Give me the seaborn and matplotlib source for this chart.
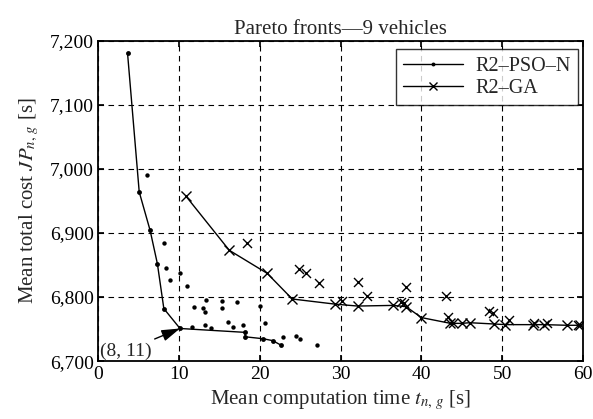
import numpy as np
import pandas as pd
import matplotlib
matplotlib.use("Agg")
import matplotlib.pyplot as plt
import matplotlib.ticker as mticker
import seaborn as sns

# R2-PSO-N pareto front (connected line)
pso_x = [3.6, 5.05, 6.4, 7.3, 8.1, 10.1, 18.1, 18.2, 20.4, 21.6, 22.6]
pso_y = [7181, 6964, 6904, 6852, 6782, 6751, 6745, 6738, 6735, 6732, 6725]

# R2-PSO-N other solutions (dots)
pso_dots_x = [6.0, 8.15, 8.4, 8.9, 10.05, 11.0, 11.8, 11.6, 12.9, 13.2, 13.3, 13.2,
              13.9, 15.3, 15.3, 16.1, 16.7, 17.15, 17.9, 20.0, 20.6, 22.9, 24.5, 25.0, 27.1]
pso_dots_y = [6990, 6884, 6845, 6826, 6838, 6817, 6785, 6753, 6783, 6776, 6796, 6756,
              6752, 6794, 6783, 6761, 6753, 6792, 6757, 6786, 6760, 6738, 6740, 6734, 6725]

# R2-GA pareto front (connected line)
ga_x = [10.8, 16.2, 20.9, 24.0, 29.3, 32.1, 36.5, 38.1, 40.0, 43.6, 45.0, 46.0,
        49.0, 50.4, 53.8, 55.2, 58.0, 59.7]
ga_y = [6958, 6873, 6837, 6797, 6789, 6786, 6787, 6785, 6768, 6759, 6759, 6760,
        6758, 6757, 6757, 6757, 6756, 6756]

# R2-GA other solutions (crosses)
ga_dots_x = [18.35, 24.9, 25.7, 27.3, 30.2, 32.2, 33.2, 37.5, 37.8, 38.1, 43.0, 43.3,
             43.9, 48.4, 48.9, 50.9, 53.9, 55.5, 59.4]
ga_dots_y = [6885, 6844, 6837, 6822, 6794, 6824, 6802, 6793, 6790, 6815, 6802, 6769,
             6760, 6778, 6775, 6764, 6759, 6759, 6756]

sns.set_theme(style="ticks")
plt.rcParams['font.family'] = ['Liberation Serif', 'DejaVu Serif']
plt.rcParams['mathtext.fontset'] = 'stix'

fig = plt.figure(figsize=(5.93, 4.19), dpi=100)
ax = fig.add_axes([0.166, 0.138, 0.817, 0.765])

pso = pd.DataFrame({'t': pso_x, 'J': pso_y})
ga = pd.DataFrame({'t': ga_x, 'J': ga_y})

sns.lineplot(data=pso, x='t', y='J', ax=ax, color='black', lw=1, marker='o',
             markersize=3.5, markeredgewidth=0, markerfacecolor='black',
             sort=False, estimator=None, label='R2\u2013PSO\u2013N')
sns.lineplot(data=ga, x='t', y='J', ax=ax, color='black', lw=1, marker='x',
             markersize=6.5, markeredgewidth=1, markeredgecolor='black',
             sort=False, estimator=None, label='R2\u2013GA')
sns.scatterplot(x=pso_dots_x, y=pso_dots_y, ax=ax, color='black', marker='o', s=10, linewidth=0)
sns.scatterplot(x=ga_dots_x, y=ga_dots_y, ax=ax, color='black', marker='x', s=42, linewidth=1)

ax.set_xlim(0, 60)
ax.set_ylim(6700, 7200)
ax.set_xticks(np.arange(0, 61, 10))
ax.set_yticks(np.arange(6700, 7201, 100))
ax.yaxis.set_major_formatter(mticker.FuncFormatter(lambda v, p: f"{int(v):,}"))
ax.grid(True, color='black', linestyle=(0, (5, 4)), linewidth=0.8)
ax.tick_params(direction='in', top=True, right=True, labelsize=14, colors='black', length=4)
for s in ax.spines.values():
    s.set_color('black')
    s.set_linewidth(1.3)

ax.set_title('Pareto fronts\u20149 vehicles', fontsize=15, pad=5)
ax.set_xlabel('Mean computation time $t_{n,\\,g}$ [s]', fontsize=15, labelpad=4)
ax.set_ylabel('Mean total cost $JP_{n,\\,g}$ [s]', fontsize=15, labelpad=6)

ax.annotate('(8, 11)', xy=(10.1, 6751), xytext=(0.2, 6716), fontsize=14,
            va='center', ha='left',
            arrowprops=dict(arrowstyle='-|>,head_length=0.8,head_width=0.25', color='black',
                            lw=1, shrinkA=0, shrinkB=0))

leg = ax.legend(loc='upper right', bbox_to_anchor=(0.998, 0.985), fontsize=14.5,
                handlelength=3, frameon=True, fancybox=False, edgecolor='black',
                borderpad=0.35, labelspacing=0.15, handletextpad=0.6, borderaxespad=0.2,
                markerscale=0.8)
leg.get_frame().set_linewidth(1)

fig.savefig('out.png', dpi=100)
